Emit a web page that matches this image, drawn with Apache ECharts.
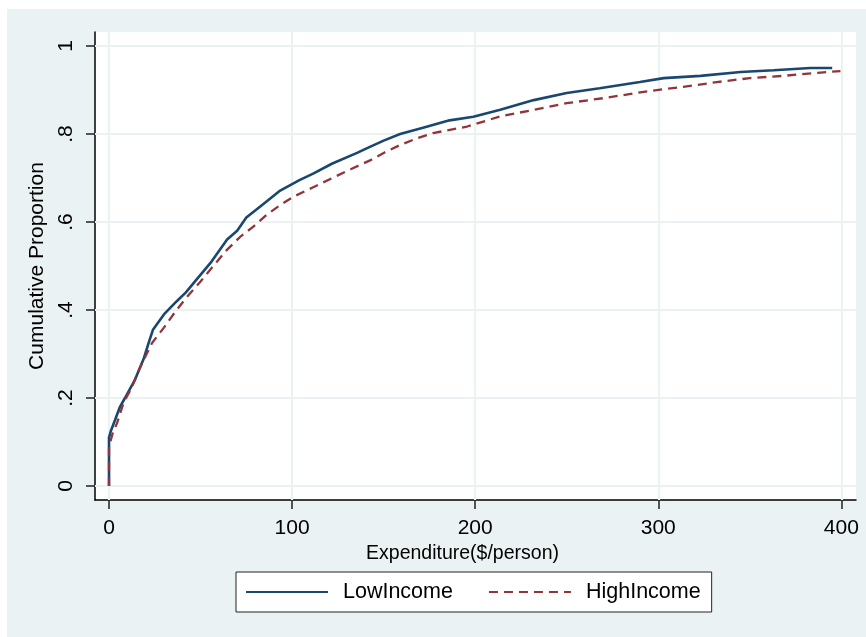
<!DOCTYPE html>
<html>
<head>
<meta charset="utf-8">
<script src="https://cdn.jsdelivr.net/npm/echarts@6/dist/echarts.min.js"></script>
<style>
html,body{margin:0;padding:0;background:#fff;}
#chart{width:866px;height:637px;}
</style>
</head>
<body>
<div id="chart"></div>
<script>
// ---- data ----
const seriesNames = ['LowIncome', 'HighIncome'];

const lowIncome = [
  [0,0],[0,0.11],[1,0.125],[3.3,0.15],[6,0.18],[8.7,0.2],[14,0.24],[19,0.29],[22,0.33],[24,0.355],
  [30,0.39],[37,0.42],[42,0.44],[48,0.47],[56,0.51],[64.5,0.56],[70,0.58],[75,0.61],[84,0.64],
  [93,0.67],[104,0.695],[111.5,0.71],[122,0.733],[135.5,0.757],[141,0.768],[150,0.785],[159,0.80],
  [172,0.815],[186,0.831],[199,0.839],[213.7,0.855],[232,0.877],[250,0.893],[268,0.904],[290,0.918],
  [303,0.927],[323,0.932],[345,0.941],[363,0.945],[383,0.95],[395,0.95]
];

const highIncome = [
  [0,0],[0,0.089],[2,0.12],[4.4,0.143],[8,0.19],[12,0.22],[17,0.27],[23.5,0.325],[30,0.36],
  [36,0.395],[42.6,0.43],[50,0.465],[57,0.50],[64,0.535],[71.6,0.566],[79,0.59],[86,0.616],
  [93,0.637],[100.5,0.657],[111,0.678],[122,0.70],[132,0.72],[142.6,0.74],[150,0.757],[159,0.775],
  [168,0.79],[177,0.802],[195.6,0.817],[213.7,0.84],[232,0.855],[250,0.87],[271,0.882],[295.6,0.898],
  [313.6,0.907],[332,0.918],[350,0.927],[368,0.932],[387,0.939],[399.5,0.943]
];

const xTickValues = [0, 100, 200, 300, 400];
const yTickValues = [0, 0.2, 0.4, 0.6, 0.8, 1];
const yTickLabels = ['0', '.2', '.4', '.6', '.8', '1'];

const xTitle = 'Expenditure($/person)';
const yTitle = 'Cumulative Proportion';

// ---- chart ----
const BG = '#eaf2f3';
const GRIDC = '#eaf2f3';
const FONT = '"Liberation Sans", Arial, sans-serif';

const chart = echarts.init(document.getElementById('chart'), null, {renderer: 'canvas'});

const gridLineData = xTickValues.map(v => ({xAxis: v}))
  .concat(yTickValues.map(v => ({yAxis: v})));

const option = {
  animation: false,
  backgroundColor: '#ffffff',
  graphic: [{
    type: 'rect', left: 7, top: 9, z: -10,
    shape: {width: 859, height: 628},
    style: {fill: BG}
  }],
  grid: {
    left: 95, top: 32, right: 10, bottom: 137,
    show: true, backgroundColor: '#ffffff', borderWidth: 0
  },
  legend: {
    left: 236, top: 572,
    data: seriesNames,
    backgroundColor: '#ffffff',
    borderColor: '#222222',
    borderWidth: 1,
    borderRadius: 0,
    padding: [9, 11, 9, 9],
    itemWidth: 82,
    itemHeight: 20,
    itemGap: 35,
    itemStyle: {opacity: 0},
    textStyle: {fontFamily: FONT, fontSize: 21.5, color: '#000', padding: [0, 0, 0, 10]}
  },
  xAxis: {
    type: 'value',
    min: -7.65, max: 408.0,
    name: xTitle,
    nameLocation: 'middle',
    nameGap: 38,
    nameTextStyle: {fontFamily: FONT, fontSize: 19.5, color: '#000', padding: [0, 26, 0, 0]},
    axisLine: {show: true, onZero: false, lineStyle: {color: '#000', width: 1.5}},
    axisTick: {show: true, length: 9, customValues: xTickValues, lineStyle: {color: '#222', width: 1.5}},
    axisLabel: {show: true, margin: 18, customValues: xTickValues, fontFamily: FONT, fontSize: 21, color: '#000'},
    splitLine: {show: false}
  },
  yAxis: {
    type: 'value',
    min: -0.0318, max: 1.0318,
    name: yTitle,
    nameLocation: 'middle',
    nameRotate: 90,
    nameGap: 44,
    nameTextStyle: {fontFamily: FONT, fontSize: 21, color: '#000'},
    axisLine: {show: true, onZero: false, lineStyle: {color: '#000', width: 1.5}},
    axisTick: {show: true, length: 9, customValues: yTickValues, lineStyle: {color: '#222', width: 1.5}},
    axisLabel: {
      show: true, margin: 18, rotate: 90, customValues: yTickValues,
      fontFamily: FONT, fontSize: 21, color: '#000',
      formatter: function (v) {
        for (let i = 0; i < yTickValues.length; i++) {
          if (Math.abs(v - yTickValues[i]) < 1e-6) return yTickLabels[i];
        }
        return '';
      }
    },
    splitLine: {show: false}
  },
  series: [
    {
      name: '_grid', type: 'line', data: [], z: 1, silent: true,
      markLine: {
        silent: true, symbol: ['none', 'none'], z: 1,
        label: {show: false},
        lineStyle: {color: GRIDC, width: 2.2, type: 'solid'},
        emphasis: {disabled: true},
        data: gridLineData
      }
    },
    {
      name: seriesNames[0], type: 'line', data: lowIncome, z: 3,
      symbol: 'none', showSymbol: false,
      lineStyle: {color: '#1a476f', width: 2.6, type: 'solid'},
      itemStyle: {color: '#1a476f'}
    },
    {
      name: seriesNames[1], type: 'line', data: highIncome, z: 4,
      symbol: 'none', showSymbol: false,
      lineStyle: {color: '#90353b', width: 2.3, type: [9, 6]},
      itemStyle: {color: '#90353b'}
    }
  ]
};
chart.setOption(option);
</script>
</body>
</html>
